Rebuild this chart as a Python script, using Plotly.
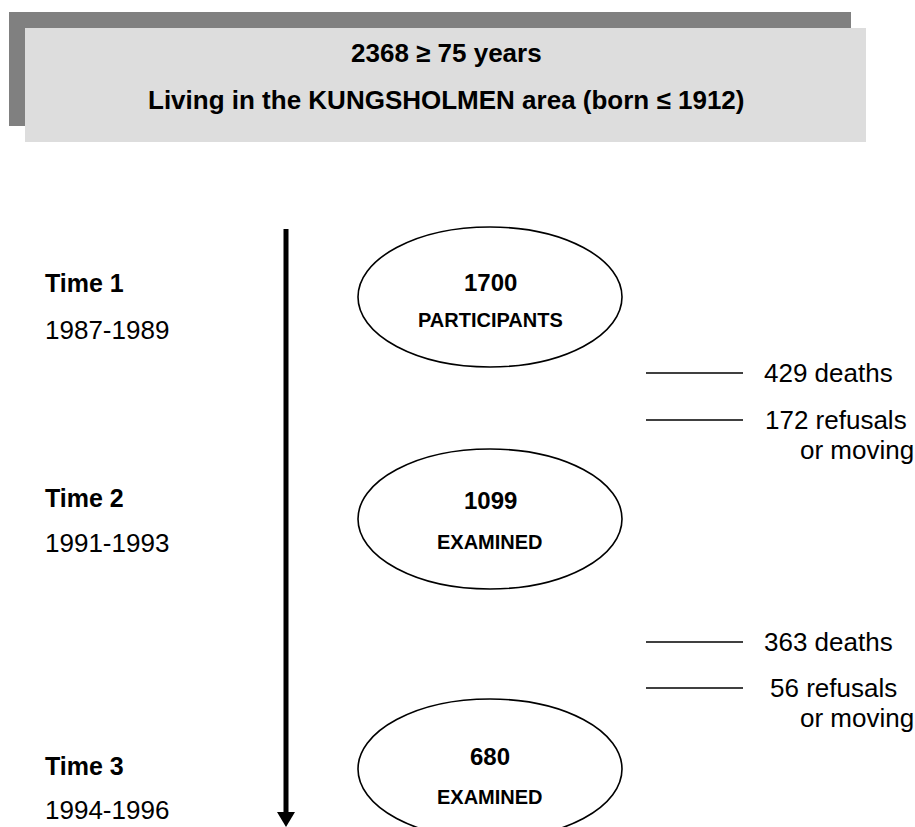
import plotly.graph_objects as go

# ---- data ----
header_total = 2368
header_age = 75
header_born = 1912
header_area = "KUNGSHOLMEN"

stage_labels = ["Time 1", "Time 2", "Time 3"]
stage_years = ["1987-1989", "1991-1993", "1994-1996"]
stage_counts = [1700, 1099, 680]
stage_status = ["PARTICIPANTS", "EXAMINED", "EXAMINED"]

dropout_deaths = [429, 363]
dropout_refusals = [172, 56]

# ---- layout constants (pixels, y downward) ----
W, H = 915, 827
FONT = "Liberation Sans, Arial, sans-serif"
stage_cy = [297, 519, 769]
stage_text_y = [(282, 320), (500, 542), (756, 797)]
label_y = [(283, 330), (498, 543), (766, 810)]
ell_cx, ell_rx, ell_ry = 490, 132, 70
drop_y = [(373, 420, 450), (642, 688, 718)]
drop_text_x = [(762, 763), (762, 768)]

shapes = []
annotations = []

# header boxes
shapes.append(dict(type="rect", x0=9, x1=851, y0=12, y1=126,
                   fillcolor="#808080", line=dict(width=0), layer="below"))
shapes.append(dict(type="rect", x0=25, x1=866, y0=28, y1=142,
                   fillcolor="#DDDDDD", line=dict(width=0), layer="below"))
annotations.append(dict(x=446, y=53, text=f"<b>{header_total} \u2265 {header_age} years</b>",
                        showarrow=False, xanchor="center", yanchor="middle",
                        font=dict(family=FONT, size=26, color="black")))
annotations.append(dict(x=446, y=100,
                        text=f"<b>Living in the {header_area} area (born \u2264 {header_born})</b>",
                        showarrow=False, xanchor="center", yanchor="middle",
                        font=dict(family=FONT, size=26, color="black")))

# time arrow
ax_x, ax_top, ax_bot = 286, 229, 827
head_h, head_w = 15, 9
shapes.append(dict(type="line", x0=ax_x, x1=ax_x, y0=ax_top, y1=ax_bot - head_h,
                   line=dict(color="black", width=5)))
shapes.append(dict(type="path",
                   path=f"M {ax_x-head_w},{ax_bot-head_h} L {ax_x+head_w},{ax_bot-head_h} L {ax_x},{ax_bot} Z",
                   fillcolor="black", line=dict(width=0)))

# stages
for i in range(len(stage_labels)):
    cy = stage_cy[i]
    shapes.append(dict(type="circle", x0=ell_cx - ell_rx, x1=ell_cx + ell_rx,
                       y0=cy - ell_ry, y1=cy + ell_ry,
                       line=dict(color="black", width=1.6)))
    ty1, ty2 = stage_text_y[i]
    annotations.append(dict(x=ell_cx, y=ty1, text=f"<b>{stage_counts[i]}</b>", showarrow=False,
                            xanchor="center", yanchor="middle",
                            font=dict(family=FONT, size=24, color="black")))
    annotations.append(dict(x=ell_cx, y=ty2, text=f"<b>{stage_status[i]}</b>", showarrow=False,
                            xanchor="center", yanchor="middle",
                            font=dict(family=FONT, size=20, color="black")))
    ly1, ly2 = label_y[i]
    annotations.append(dict(x=43, y=ly1, text=f"<b>{stage_labels[i]}</b>", showarrow=False,
                            xanchor="left", yanchor="middle",
                            font=dict(family=FONT, size=25, color="black")))
    annotations.append(dict(x=43, y=ly2, text=stage_years[i], showarrow=False,
                            xanchor="left", yanchor="middle",
                            font=dict(family=FONT, size=26, color="black")))

# dropouts
for i in range(len(dropout_deaths)):
    yd, yr, ym = drop_y[i]
    xd, xr = drop_text_x[i]
    for yy in (yd, yr):
        shapes.append(dict(type="line", x0=646, x1=743, y0=yy, y1=yy,
                           line=dict(color="black", width=1.6)))
    annotations.append(dict(x=xd, y=yd, text=f"{dropout_deaths[i]} deaths", showarrow=False,
                            xanchor="left", yanchor="middle",
                            font=dict(family=FONT, size=26, color="black")))
    annotations.append(dict(x=xr, y=yr, text=f"{dropout_refusals[i]} refusals", showarrow=False,
                            xanchor="left", yanchor="middle",
                            font=dict(family=FONT, size=26, color="black")))
    annotations.append(dict(x=798, y=ym, text="or moving", showarrow=False,
                            xanchor="left", yanchor="middle",
                            font=dict(family=FONT, size=26, color="black")))

fig = go.Figure()
fig.update_layout(
    width=W, height=H,
    margin=dict(l=0, r=0, t=0, b=0),
    paper_bgcolor="white", plot_bgcolor="white",
    xaxis=dict(range=[0, W], visible=False, fixedrange=True),
    yaxis=dict(range=[H, 0], visible=False, fixedrange=True),
    shapes=shapes, annotations=annotations, showlegend=False,
)
fig.write_html(
    "out.html",
    config={"displayModeBar": False},
    post_script="document.body.style.margin='0px';document.body.style.overflow='hidden';",
)
